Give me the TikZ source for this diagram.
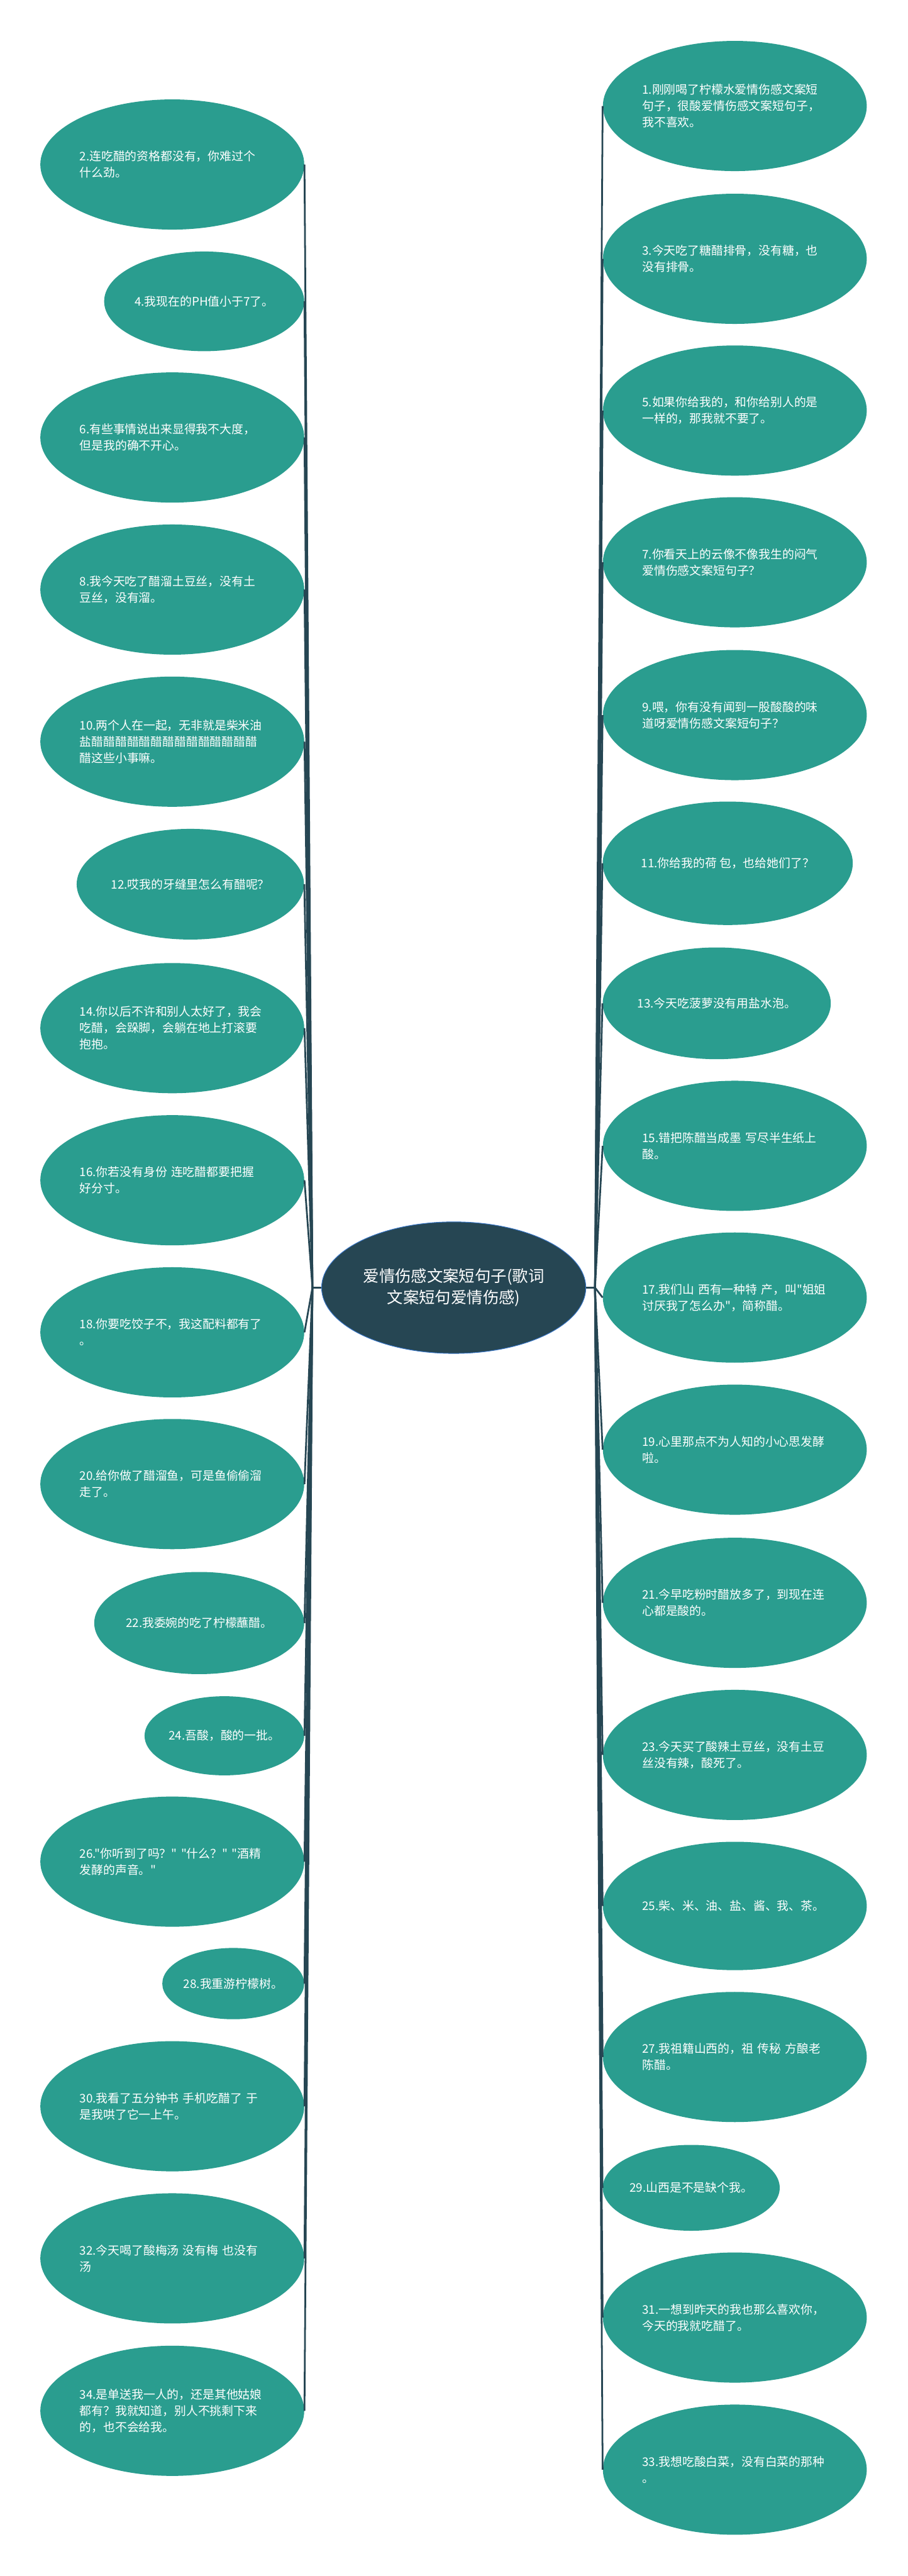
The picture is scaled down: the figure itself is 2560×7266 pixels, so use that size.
\documentclass[tikz,border=0pt]{standalone}
\usepackage{fontspec}
\newfontfamily\cjk{Noto Sans CJK SC}
\usetikzlibrary{shapes.geometric}
\definecolor{leafgreen}{HTML}{2A9D8F}
\definecolor{hubblue}{HTML}{264653}
\definecolor{rimblue}{HTML}{3A78C9}
\begin{document}
\begin{tikzpicture}[x=0.01cm,y=-0.01cm,
  leaf/.style={ellipse,fill=leafgreen,text=white,inner sep=0pt,
    font=\cjk\fontsize{9.5}{13.1}\selectfont},
  wide/.style={leaf,minimum width=7.44cm,minimum height=3.67cm,
    text width=5.22cm,align=left},
  hub/.style={ellipse,fill=hubblue,draw=rimblue,line width=0.5pt,text=white,
    inner sep=0pt,minimum width=7.45cm,minimum height=3.71cm,align=center,
    font=\cjk\fontsize{12.8}{17}\selectfont},
  link/.style={draw=hubblue,line width=1.4pt,line join=round}]
\useasboundingbox (0,0) rectangle (2560,7266);

\node[hub] (root) at (1280,3632) {爱情伤感文案短句子(歌词\\文案短句爱情伤感)};

\node[wide] (n2) at (486,464) {2.连吃醋的资格都没有，你难过个\\什么劲。};
\node[leaf,minimum width=5.64cm,minimum height=2.81cm] (n4) at (576,850) {4.我现在的PH值小于7了。};
\node[wide] (n6) at (486,1234) {6.有些事情说出来显得我不大度，\\但是我的确不开心。};
\node[wide] (n8) at (486,1663) {8.我今天吃了醋溜土豆丝，没有土\\豆丝，没有溜。};
\node[wide] (n10) at (486,2092) {10.两个人在一起，无非就是柴米油\\盐醋醋醋醋醋醋醋醋醋醋醋醋醋醋\\醋这些小事嘛。};
\node[leaf,minimum width=6.41cm,minimum height=3.12cm] (n12) at (537,2494) {12.哎我的牙缝里怎么有醋呢？};
\node[wide] (n14) at (486,2900) {14.你以后不许和别人太好了，我会\\吃醋，会跺脚，会躺在地上打滚要\\抱抱。};
\node[wide] (n16) at (486,3329) {16.你若没有身份 连吃醋都要把握\\好分寸。};
\node[wide] (n18) at (486,3758) {18.你要吃饺子不，我这配料都有了\\。};
\node[wide] (n20) at (486,4186) {20.给你做了醋溜鱼，可是鱼偷偷溜\\走了。};
\node[leaf,minimum width=5.92cm,minimum height=2.88cm] (n22) at (562,4578) {22.我委婉的吃了柠檬蘸醋。};
\node[leaf,minimum width=4.50cm,minimum height=2.23cm] (n24) at (633,4896) {24.吾酸，酸的一批。};
\node[wide] (n26) at (486,5251) {26."你听到了吗？" "什么？" "酒精\\发酵的声音。"};
\node[leaf,minimum width=4.00cm,minimum height=2.01cm] (n28) at (658,5595) {28.我重游柠檬树。};
\node[wide] (n30) at (486,5941) {30.我看了五分钟书 手机吃醋了 于\\是我哄了它一上午。};
\node[wide] (n32) at (486,6370) {32.今天喝了酸梅汤 没有梅 也没有\\汤};
\node[wide] (n34) at (486,6800) {34.是单送我一人的，还是其他姑娘\\都有？我就知道，别人不挑剩下来\\的，也不会给我。};

\node[wide] (n1) at (2073,299) {1.刚刚喝了柠檬水爱情伤感文案短\\句子，很酸爱情伤感文案短句子，\\我不喜欢。};
\node[wide] (n3) at (2073,730) {3.今天吃了糖醋排骨，没有糖，也\\没有排骨。};
\node[wide] (n5) at (2073,1158) {5.如果你给我的，和你给别人的是\\一样的，那我就不要了。};
\node[wide] (n7) at (2073,1586) {7.你看天上的云像不像我生的闷气\\爱情伤感文案短句子？};
\node[wide] (n9) at (2073,2017) {9.喂，你有没有闻到一股酸酸的味\\道呀爱情伤感文案短句子？};
\node[leaf,minimum width=7.05cm,minimum height=3.48cm] (n11) at (2053,2435) {11.你给我的荷 包，也给她们了？};
\node[leaf,minimum width=6.43cm,minimum height=3.15cm] (n13) at (2022,2830) {13.今天吃菠萝没有用盐水泡。};
\node[wide] (n15) at (2073,3232) {15.错把陈醋当成墨 写尽半生纸上\\酸。};
\node[wide] (n17) at (2073,3660) {17.我们山 西有一种特 产，叫"姐姐\\讨厌我了怎么办"，简称醋。};
\node[wide] (n19) at (2073,4089) {19.心里那点不为人知的小心思发酵\\啦。};
\node[wide] (n21) at (2073,4521) {21.今早吃粉时醋放多了，到现在连\\心都是酸的。};
\node[wide] (n23) at (2073,4950) {23.今天买了酸辣土豆丝，没有土豆\\丝没有辣，酸死了。};
\node[wide,minimum height=3.62cm] (n25) at (2073,5376) {25.柴、米、油、盐、酱、我、茶。};
\node[wide] (n27) at (2073,5802) {27.我祖籍山西的，祖 传秘 方酿老\\陈醋。};
\node[leaf,minimum width=4.99cm,minimum height=2.42cm] (n29) at (1950,6171) {29.山西是不是缺个我。};
\node[wide] (n31) at (2073,6537) {31.一想到昨天的我也那么喜欢你，\\今天的我就吃醋了。};
\node[wide] (n33) at (2073,6966) {33.我想吃酸白菜，没有白菜的那种\\。};

\foreach \k in {n2,n4,n6,n8,n10,n12,n14,n16,n18,n20,n22,n24,n26,n28,n30,n32,n34}
  \draw[link] (root.west) -- ++(-25,0) -- (\k.east);
\foreach \k in {n1,n3,n5,n7,n9,n11,n13,n15,n17,n19,n21,n23,n25,n27,n29,n31,n33}
  \draw[link] (root.east) -- ++(25,0) -- (\k.west);
\end{tikzpicture}
\end{document}
